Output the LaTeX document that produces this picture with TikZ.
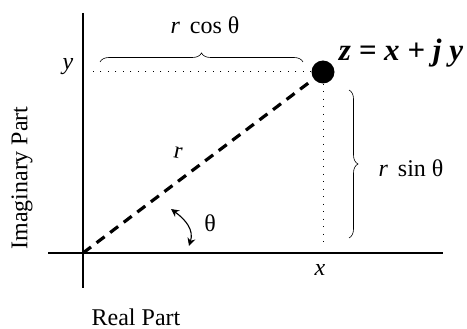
\documentclass[tikz,border=0pt]{standalone}
\usepackage{fontspec}
\setmainfont{Liberation Serif}
\usetikzlibrary{decorations.pathreplacing,arrows.meta}
\begin{document}
\begin{tikzpicture}[x=1pt,y=-1pt,
  axis/.style={line width=1.2pt},
  dots/.style={line width=1pt,dash pattern=on 1pt off 6.5pt},
  radius line/.style={line width=3.2pt,dash pattern=on 10pt off 7pt},
  bracestyle/.style={decorate,decoration={brace,amplitude=9pt},line width=0.6pt},
  lbl/.style={font=\fontsize{24}{28}\selectfont,inner sep=0pt},
  big/.style={font=\fontsize{31}{34}\selectfont\bfseries\itshape,inner sep=0pt}]
\useasboundingbox (0,0) rectangle (467,329);
% axes
\coordinate (o) at (83,253);
\coordinate (vtop) at (83,13);
\coordinate (vbot) at (83,288);
\coordinate (hl) at (48,253);
\coordinate (hr) at (443,253);
\draw[axis] (vtop) -- (vbot);
\draw[axis] (hl) -- (hr);
% point
\node[circle,fill=black,minimum size=23pt,inner sep=0pt] (z) at (323,72) {};
% dotted projections
\coordinate (yd) at (92,72);
\coordinate (xd) at (323,247);
\draw[dots] (z.west) -- (yd);
\draw[dots] (z.south) -- (xd);
% radius
\draw[radius line] (o) -- (z);
% braces
\coordinate (b1) at (100,62);
\coordinate (b2) at (303,62);
\draw[bracestyle] (b1) -- (b2);
\coordinate (b3) at (349,90);
\coordinate (b4) at (349,238);
\draw[bracestyle] (b3) -- (b4);
% angle arrow
\coordinate (a1) at (171,209);
\coordinate (a2) at (189,246);
\draw[line width=1.1pt,{Stealth[length=8pt,width=8pt]}-{Stealth[length=8pt,width=8pt]}] (a1) .. controls (186,220) and (194,230) .. (a2);
% labels
\node[lbl] (rcos) at (205,25) {\textit{r}\, cos θ};
\node[lbl] (ylab) at (68,67) {\textit{y}};
\node[big] (zlab) at (401,53) {z = x + j y};
\node[lbl] (rsin) at (411,168) {\textit{r}\, sin θ};
\node[lbl,rotate=-12] (rlab) at (178,153) {r};
\node[lbl] (th) at (210,223) {θ};
\node[lbl] (xlab) at (320,270) {\textit{x}};
\node[lbl,rotate=90] (im) at (22,178) {Imaginary Part};
\node[lbl] (re) at (136,317) {Real Part};
\end{tikzpicture}
\end{document}
